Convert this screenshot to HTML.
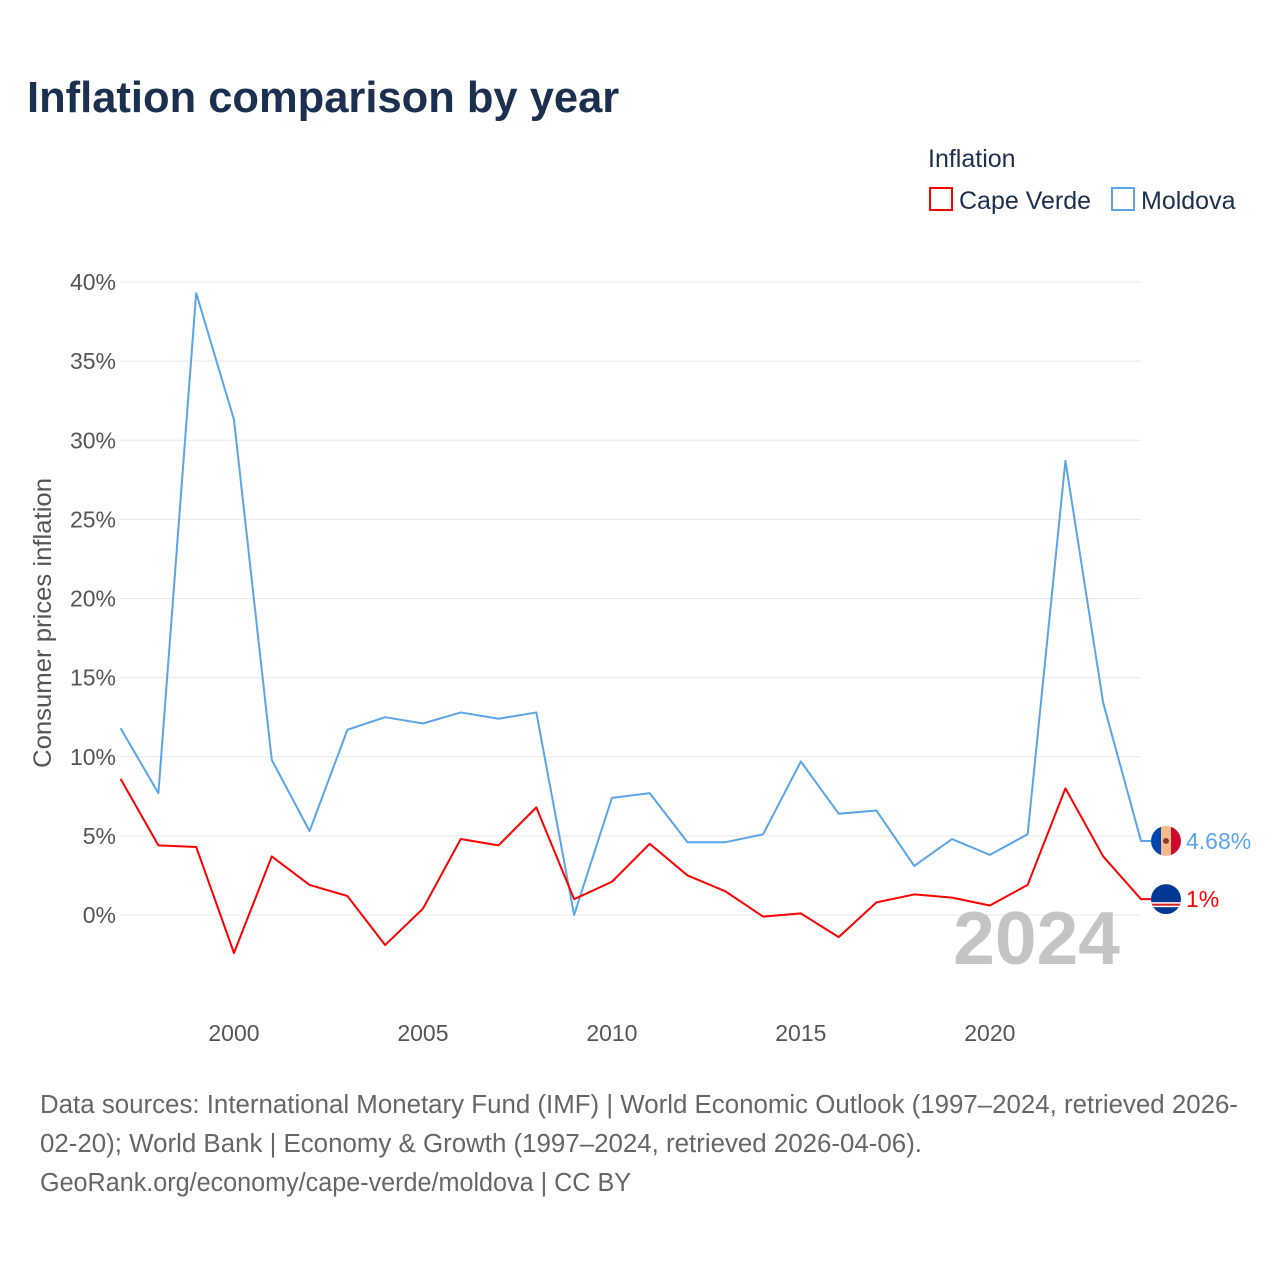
<!DOCTYPE html>
<html><head><meta charset="utf-8"><style>
body{margin:0;background:#fff;font-family:"Liberation Sans",sans-serif;}
</style></head><body>
<svg width="1280" height="1280" viewBox="0 0 1280 1280" xmlns="http://www.w3.org/2000/svg">
<rect width="1280" height="1280" fill="#fff"/>
<text x="27" y="112" font-size="43.5" font-weight="bold" fill="#1b2f4e">Inflation comparison by year</text>
<text x="928" y="167" font-size="25" fill="#1b2f4e">Inflation</text>
<g><rect x="930" y="188" width="22" height="22" fill="none" stroke="#f00" stroke-width="2"/><text x="959" y="209" font-size="25" fill="#1b2f4e">Cape Verde</text></g>
<g><rect x="1112" y="188" width="22" height="22" fill="none" stroke="#5aa5e8" stroke-width="2"/><text x="1141" y="209" font-size="25" fill="#1b2f4e">Moldova</text></g>
<text transform="translate(51,623) rotate(-90)" text-anchor="middle" font-size="25" textLength="290" lengthAdjust="spacingAndGlyphs" fill="#555">Consumer prices inflation</text>
<g id="grid"></g><g id="yt"></g><g id="xt"></g>
<text x="1120" y="964" text-anchor="end" font-size="75" font-weight="bold" fill="#c4c4c4">2024</text>
<g id="series"></g>
<text x="40" y="1113" font-size="25.5" textLength="1198" lengthAdjust="spacingAndGlyphs" fill="#666">Data sources: International Monetary Fund (IMF) | World Economic Outlook (1997–2024, retrieved 2026-</text>
<text x="40" y="1152" font-size="25.5" textLength="882" lengthAdjust="spacingAndGlyphs" fill="#666">02-20); World Bank | Economy &amp; Growth (1997–2024, retrieved 2026-04-06).</text>
<text x="40" y="1191" font-size="25.5" textLength="591" lengthAdjust="spacingAndGlyphs" fill="#666">GeoRank.org/economy/cape-verde/moldova | CC BY</text>
</svg>
<script>
const years=[1997,1998,1999,2000,2001,2002,2003,2004,2005,2006,2007,2008,2009,2010,2011,2012,2013,2014,2015,2016,2017,2018,2019,2020,2021,2022,2023,2024];
const moldova=[11.8,7.7,39.3,31.3,9.8,5.3,11.7,12.5,12.1,12.8,12.4,12.8,0.0,7.4,7.7,4.6,4.6,5.1,9.7,6.4,6.6,3.1,4.8,3.8,5.1,28.7,13.4,4.68];
const capeVerde=[8.6,4.4,4.3,-2.4,3.7,1.9,1.2,-1.9,0.4,4.8,4.4,6.8,1.0,2.1,4.5,2.5,1.5,-0.1,0.1,-1.4,0.8,1.3,1.1,0.6,1.9,8.0,3.7,1.0];
const yTicks=[0,5,10,15,20,25,30,35,40];
const xTicks=[2000,2005,2010,2015,2020];
const NS="http://www.w3.org/2000/svg";
const x=v=>120.6+(v-1997)*(1141-120.6)/27;
const y=v=>915-v*(915-282)/40;
function mk(t,a,p){const e=document.createElementNS(NS,t);for(const k in a)e.setAttribute(k,a[k]);document.getElementById(p).appendChild(e);return e;}
yTicks.forEach(t=>{
 const l=mk('line',{x1:120,x2:1141,y1:y(t),y2:y(t),stroke:'#e8e8e8','stroke-width':1},'grid');
 
 
 const tx=mk('text',{x:116,y:y(t)+8,'text-anchor':'end','font-size':23,fill:'#555'},'yt');
 tx.textContent=t+'%';
 
 
});
xTicks.forEach(t=>{
 const tx=mk('text',{x:x(t),y:1041,'text-anchor':'middle','font-size':23,fill:'#555'},'xt');
 tx.textContent=t;
 
 
});
function series(vals,color,name){
 const d=vals.map((v,i)=>(i?'L':'M')+x(years[i])+','+y(v)).join(' ');
 const p=mk('path',{d:d+' L'+(x(2024)+10)+','+y(vals[vals.length-1]),fill:'none',stroke:color,'stroke-width':2,'stroke-linejoin':'round'},'series');
 
 
 return y(vals[vals.length-1]);
}
const my=series(moldova,'#5aa5e8','moldova');
const cy=series(capeVerde,'#f00','cape-verde');
let g=mk('g',{},'series');


g.innerHTML=`<clipPath id="cm"><circle cx="1166" cy="${my}" r="15"/></clipPath><g clip-path="url(#cm)"><rect x="1151" y="${my-15}" width="10" height="30" fill="#0046ae"/><rect x="1171" y="${my-15}" width="10" height="30" fill="#cc092f"/><rect x="1161" y="${my-15}" width="10" height="30" fill="#f6b98a"/><circle cx="1166" cy="${my}" r="3" fill="#8a3b2a"/></g>`;
let t=mk('text',{x:1186,y:my+8,'font-size':23,fill:'#5aa5e8'},'series');
t.textContent='4.68%';


g=mk('g',{},'series');


g.innerHTML=`<clipPath id="cc"><circle cx="1166" cy="${cy}" r="15"/></clipPath><g clip-path="url(#cc)"><rect x="1151" y="${cy-15}" width="30" height="30" fill="#003893"/><rect x="1151" y="${cy+3}" width="30" height="5" fill="#fff"/><rect x="1151" y="${cy+4.5}" width="30" height="2" fill="#cf2027"/></g>`;
t=mk('text',{x:1186,y:cy+8,'font-size':23,fill:'#f00'},'series');
t.textContent='1%';


</script>
</body></html>
